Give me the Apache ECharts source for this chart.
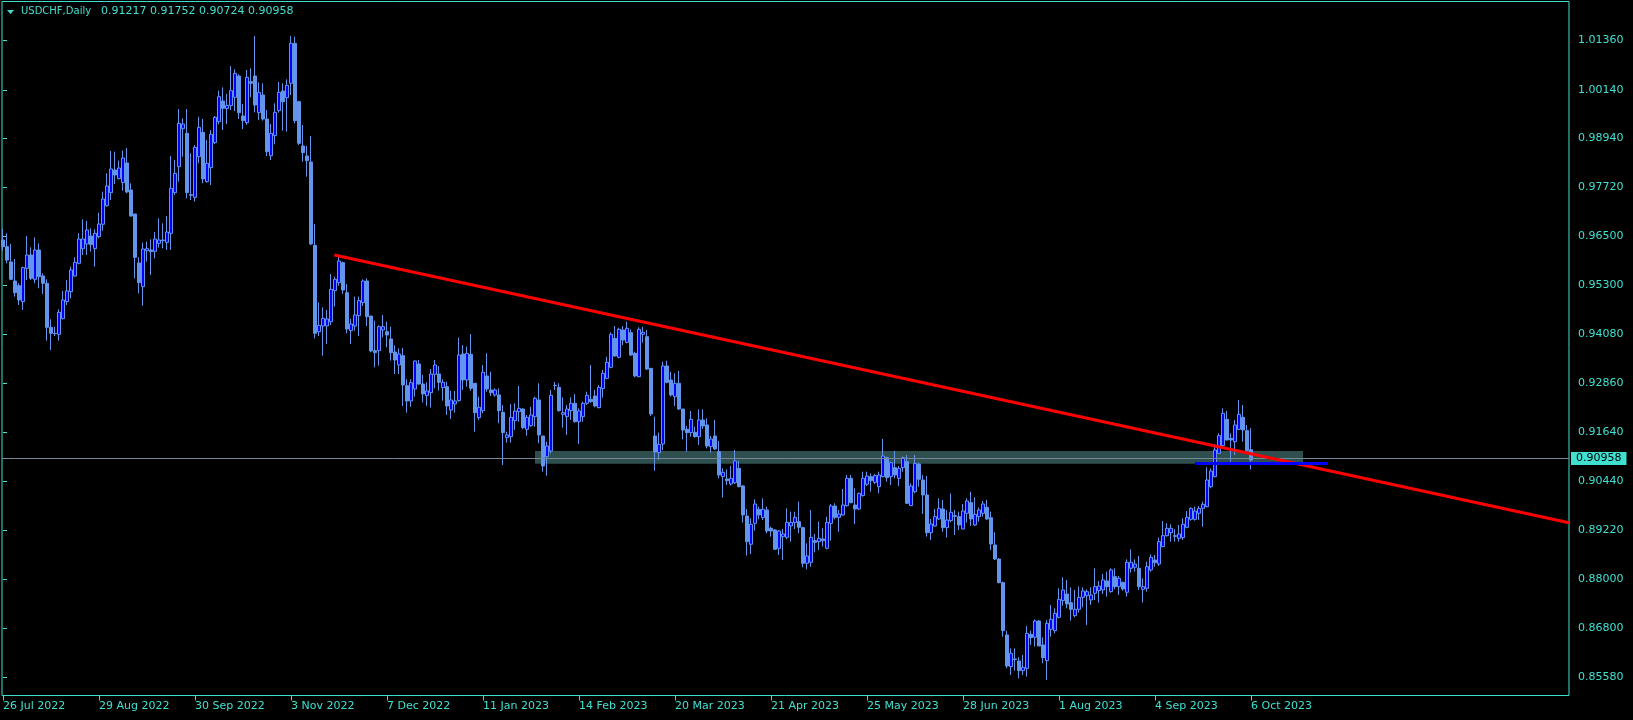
<!DOCTYPE html>
<html><head><meta charset="utf-8">
<script src="https://cdn.jsdelivr.net/npm/echarts@6/dist/echarts.min.js"></script>
<style>html,body{margin:0;padding:0;background:#000}#c{width:1633px;height:720px}</style>
</head><body><div id="c"></div><script>
const symbolName = 'USDCHF,Daily';
const tickLabels = ['26 Jul 2022','29 Aug 2022','30 Sep 2022','3 Nov 2022','7 Dec 2022','11 Jan 2023','14 Feb 2023','20 Mar 2023','21 Apr 2023','25 May 2023','28 Jun 2023','1 Aug 2023','4 Sep 2023','6 Oct 2023'];
const barsPerLabel = 24;
const yTicks = [1.0136,1.0014,0.9894,0.9772,0.965,0.953,0.9408,0.9286,0.9164,0.9044,0.8922,0.88,0.868,0.8558];

const opens = [
0.96416,0.96251,0.95871,0.95400,0.95284,0.94887,0.95714,0.96044,0.95441,0.96168,
0.95524,0.95342,0.94251,0.94102,0.94077,0.94465,0.94887,0.95135,0.95524,0.95838,
0.96201,0.96317,0.96515,0.96201,0.96499,0.96805,0.97267,0.97590,0.98152,0.97937,
0.97838,0.98325,0.97656,0.97061,0.95846,0.95259,0.96152,0.96168,0.96135,0.96333,
0.96400,0.96358,0.96581,0.97590,0.98234,0.99177,0.99061,0.97540,0.97474,0.98482,
0.99086,0.97862,0.98210,0.98830,0.99350,0.99863,0.99673,0.99747,0.99954,1.00483,
0.99491,0.99325,1.00342,1.00483,0.99573,1.00011,0.99416,0.98507,0.99003,0.99623,
1.00111,0.99945,1.00301,1.01292,0.99846,0.98747,0.98499,0.98350,0.96284,0.94143,
0.94283,0.94283,0.94391,0.95160,0.95358,0.95854,0.95110,0.94168,0.94283,0.94540,
0.94862,0.95399,0.94531,0.93672,0.93672,0.94184,0.94143,0.93961,0.93639,0.93317,
0.93548,0.92804,0.92424,0.92721,0.93341,0.92845,0.92556,0.92630,0.93085,0.93093,
0.92754,0.92779,0.92201,0.92350,0.92432,0.93589,0.92945,0.93581,0.92862,0.92011,
0.92184,0.93044,0.92697,0.92573,0.92573,0.92143,0.91515,0.91539,0.91936,0.92159,
0.92225,0.91721,0.91812,0.92035,0.92449,0.91556,0.91044,0.91184,0.92812,0.92763,
0.92093,0.92035,0.92184,0.92366,0.91911,0.92035,0.92366,0.92465,0.92548,0.92258,
0.92730,0.92986,0.93259,0.93978,0.93507,0.94184,0.93878,0.94118,0.93606,0.93027,
0.94077,0.94019,0.93234,0.91556,0.91143,0.91358,0.93292,0.92944,0.92531,0.92862,
0.92225,0.91721,0.91639,0.91647,0.91539,0.91953,0.91829,0.91292,0.91556,0.91167,
0.90548,0.90490,0.90366,0.90399,0.90754,0.90316,0.89572,0.88870,0.89390,0.89738,
0.89531,0.89721,0.89267,0.89225,0.88771,0.89060,0.89043,0.89325,0.89407,0.89432,
0.89283,0.88399,0.88424,0.88961,0.88936,0.89002,0.88771,0.89390,0.89820,0.89539,
0.89597,0.89828,0.90506,0.89845,0.89746,0.90077,0.90358,0.90548,0.90407,0.90300,
0.90548,0.91019,0.90548,0.90771,0.90506,0.90771,0.90920,0.89829,0.90176,0.90862,
0.90465,0.90093,0.89159,0.89324,0.89498,0.89746,0.89283,0.89457,0.89581,0.89556,
0.89250,0.89638,0.89903,0.89349,0.89556,0.89638,0.89787,0.89531,0.88853,0.88506,
0.87919,0.86622,0.85836,0.86027,0.85977,0.85737,0.85795,0.86638,0.86564,0.86969,
0.86374,0.85985,0.86762,0.86729,0.87060,0.87473,0.87638,0.87423,0.87101,0.87258,
0.87556,0.87597,0.87490,0.87655,0.87721,0.87738,0.87961,0.87696,0.88068,0.87820,
0.87928,0.87680,0.88275,0.88300,0.88275,0.87754,0.87779,0.88234,0.88481,0.88382,
0.88812,0.89085,0.89159,0.89085,0.89019,0.89035,0.89291,0.89490,0.89490,0.89638,
0.89762,0.89804,0.90300,0.90548,0.91126,0.91316,0.91969,0.91498,0.91415,0.91721,
0.92019,0.91688,0.91217];

const highs = [
0.96689,0.96581,0.96317,0.95945,0.95342,0.95755,0.96515,0.96234,0.96482,0.96333,
0.95590,0.95441,0.94449,0.94267,0.94697,0.95152,0.95424,0.95755,0.95986,0.96581,
0.96929,0.96887,0.96705,0.96680,0.97094,0.97615,0.98069,0.98623,0.98606,0.98383,
0.98631,0.98697,0.97821,0.97061,0.95986,0.96350,0.96375,0.96433,0.96614,0.96953,
0.96829,0.97011,0.98499,0.98400,0.99664,0.99433,0.99664,0.98565,0.98772,0.99474,
0.99416,0.98896,0.99144,0.99491,1.00119,1.00201,1.00036,1.00730,1.00648,1.00524,
0.99788,1.00631,1.00673,1.01474,1.00325,1.00301,0.99640,0.99292,0.99805,1.00334,
1.00301,1.00400,1.01474,1.01458,0.99871,0.99268,0.98747,0.98995,0.96813,0.94870,
0.94746,0.94680,0.95573,0.95507,0.96003,0.95879,0.95325,0.94457,0.95011,0.95011,
0.95441,0.95465,0.94531,0.94416,0.94300,0.94556,0.94391,0.94267,0.93804,0.93730,
0.93738,0.92961,0.92961,0.93424,0.93441,0.93069,0.92887,0.93217,0.93441,0.93292,
0.92961,0.92903,0.92680,0.92672,0.93994,0.93812,0.93771,0.94085,0.92862,0.92531,
0.93317,0.93606,0.93151,0.92738,0.92738,0.92325,0.91663,0.92349,0.92366,0.92796,
0.92242,0.92077,0.92283,0.92531,0.92862,0.91556,0.91416,0.92697,0.92895,0.92862,
0.92515,0.92325,0.92515,0.92597,0.92242,0.92407,0.92655,0.93316,0.92697,0.92820,
0.93192,0.93523,0.94126,0.94283,0.94242,0.94283,0.94391,0.94201,0.93647,0.94250,
0.94267,0.94184,0.93234,0.92035,0.91639,0.93399,0.93424,0.93151,0.93110,0.93168,
0.92225,0.91804,0.92176,0.91787,0.92217,0.92217,0.91994,0.91556,0.91953,0.91432,
0.90754,0.90730,0.90812,0.91209,0.90944,0.90341,0.89746,0.89515,0.89986,0.89804,
0.90010,0.89804,0.89308,0.89250,0.89225,0.89250,0.89763,0.89680,0.89680,0.89928,
0.89308,0.88895,0.89721,0.89126,0.89432,0.89267,0.89556,0.89870,0.89886,0.89721,
0.90242,0.90589,0.90589,0.90258,0.90151,0.90672,0.90672,0.90630,0.90614,0.90672,
0.91482,0.91044,0.90920,0.91184,0.90812,0.91044,0.91085,0.90382,0.91085,0.90895,
0.90589,0.90564,0.89498,0.89746,0.90010,0.89969,0.89721,0.90134,0.89721,0.89680,
0.89870,0.90010,0.90176,0.90035,0.89787,0.89944,0.89969,0.89680,0.89167,0.88523,
0.87944,0.86729,0.86291,0.86291,0.86068,0.86126,0.86845,0.86729,0.87010,0.86994,
0.86564,0.86994,0.87366,0.87283,0.87779,0.88051,0.87985,0.87804,0.87738,0.87820,
0.87804,0.87754,0.87804,0.88275,0.87961,0.88134,0.88192,0.88275,0.88275,0.88085,
0.87944,0.88498,0.88746,0.88498,0.88581,0.88024,0.88440,0.88622,0.88606,0.89035,
0.89448,0.89391,0.89366,0.89242,0.89349,0.89515,0.89696,0.89787,0.89804,0.89820,
0.89928,0.90779,0.90754,0.91358,0.91622,0.92242,0.92176,0.91622,0.91953,0.92449,
0.92325,0.91829,0.91752];

const lows = [
0.96152,0.95838,0.95424,0.95011,0.94804,0.94680,0.95424,0.95424,0.95342,0.95218,
0.95077,0.93920,0.93689,0.94036,0.93920,0.94449,0.94804,0.94970,0.95507,0.95813,
0.96044,0.96044,0.96127,0.95755,0.96458,0.96647,0.97243,0.97408,0.97805,0.97920,
0.97639,0.97573,0.96995,0.95466,0.95094,0.94788,0.95879,0.95548,0.95962,0.96226,
0.96209,0.96168,0.96168,0.97532,0.97862,0.98482,0.97449,0.97408,0.97367,0.98317,
0.97821,0.97838,0.97780,0.98796,0.99284,0.99144,0.99292,0.99640,0.99615,0.99416,
0.99168,0.99268,0.99954,0.99582,0.99392,0.99375,0.98499,0.98400,0.98788,0.99573,
0.99127,0.99102,1.00011,0.99309,0.98772,0.98358,0.97986,0.96292,0.93978,0.94035,
0.93548,0.93837,0.94308,0.94763,0.95284,0.95077,0.94102,0.93837,0.94168,0.94035,
0.94779,0.94283,0.93631,0.93259,0.93300,0.94002,0.93754,0.93424,0.93093,0.93093,
0.92300,0.92135,0.92283,0.92531,0.92821,0.92391,0.92300,0.92259,0.92738,0.92680,
0.92432,0.92077,0.91978,0.92135,0.92408,0.92697,0.92779,0.92680,0.91663,0.91953,
0.92118,0.92655,0.92548,0.92531,0.91870,0.90837,0.91391,0.91391,0.91705,0.91911,
0.91721,0.91564,0.91787,0.91787,0.91374,0.90672,0.90572,0.91126,0.92697,0.92159,
0.91763,0.91581,0.91953,0.91887,0.91358,0.91911,0.92325,0.92382,0.92267,0.92242,
0.92506,0.92961,0.93234,0.93523,0.93482,0.93812,0.93854,0.93540,0.93011,0.93011,
0.93870,0.93192,0.92052,0.90696,0.90961,0.91209,0.92862,0.92531,0.92300,0.92201,
0.91473,0.91168,0.91539,0.91515,0.91333,0.91730,0.91250,0.91143,0.91209,0.90506,
0.90027,0.90341,0.90325,0.90366,0.90283,0.89407,0.88589,0.88630,0.89209,0.89490,
0.89473,0.89143,0.89060,0.88730,0.88605,0.88481,0.88994,0.88936,0.89250,0.89143,
0.88300,0.88250,0.88316,0.88672,0.88729,0.88812,0.88746,0.88961,0.89490,0.89184,
0.89581,0.89804,0.89886,0.89374,0.89721,0.90052,0.90316,0.90176,0.90366,0.90134,
0.90531,0.90424,0.90341,0.90506,0.90316,0.90672,0.89870,0.89820,0.90134,0.90300,
0.89622,0.89060,0.88977,0.89308,0.89473,0.89184,0.89035,0.89415,0.89101,0.89225,
0.89242,0.89407,0.89324,0.89324,0.89432,0.89556,0.89473,0.88729,0.88481,0.87903,
0.86580,0.85795,0.85630,0.85737,0.85547,0.85630,0.85589,0.86374,0.86333,0.86349,
0.85919,0.85506,0.86580,0.86663,0.87035,0.87349,0.87283,0.86977,0.87060,0.87176,
0.87308,0.86870,0.87366,0.87490,0.87423,0.87638,0.87572,0.87671,0.87754,0.87614,
0.87721,0.87572,0.88167,0.88192,0.87738,0.87423,0.87696,0.88192,0.88316,0.88333,
0.88795,0.89060,0.88936,0.88936,0.88936,0.88977,0.89267,0.89457,0.89457,0.89473,
0.89308,0.89787,0.90258,0.90531,0.91110,0.91308,0.91440,0.90920,0.91085,0.91705,
0.91415,0.91167,0.90724];

const closes = [
0.96251,0.95920,0.95441,0.95110,0.94928,0.95730,0.96044,0.95466,0.96168,0.95507,
0.95342,0.94251,0.94102,0.94094,0.94623,0.94928,0.95152,0.95672,0.95862,0.96441,
0.96441,0.96664,0.96300,0.96581,0.96813,0.97433,0.97755,0.98177,0.98028,0.98201,
0.98449,0.97606,0.97011,0.95986,0.95358,0.96193,0.96201,0.96127,0.96441,0.96416,
0.96416,0.96614,0.97697,0.98069,0.99309,0.99292,0.97590,0.97524,0.98714,0.99210,
0.97929,0.98317,0.99036,0.99458,0.99970,0.99681,0.99755,1.00119,1.00549,0.99573,
0.99375,1.00449,1.00301,0.99763,1.00078,0.99416,0.98606,0.99061,0.99582,1.00078,
0.99846,1.00251,1.01292,0.99375,0.98813,0.98582,0.98383,0.96317,0.94102,0.94300,
0.94474,0.94457,0.95193,0.95441,0.95895,0.95176,0.94209,0.94333,0.94556,0.94912,
0.95399,0.94515,0.93664,0.93622,0.94267,0.94267,0.94060,0.93622,0.93441,0.93589,
0.92821,0.92424,0.92878,0.93416,0.92845,0.92598,0.92672,0.93093,0.93317,0.92887,
0.92887,0.92300,0.92449,0.92424,0.93564,0.92945,0.93606,0.92738,0.92135,0.92267,
0.93135,0.92721,0.92630,0.92697,0.92184,0.91639,0.91581,0.92019,0.92176,0.92242,
0.91763,0.92019,0.92077,0.92490,0.91581,0.90812,0.91308,0.92564,0.92804,0.92184,
0.92135,0.92225,0.92366,0.91911,0.92176,0.92366,0.92564,0.92407,0.92300,0.92763,
0.93110,0.93383,0.94077,0.93540,0.94201,0.93936,0.94226,0.93564,0.93044,0.94201,
0.94126,0.93217,0.92101,0.91159,0.91349,0.93292,0.92887,0.92572,0.92862,0.92225,
0.91705,0.91639,0.91969,0.91539,0.91953,0.91804,0.91308,0.91482,0.91234,0.90589,
0.90655,0.90448,0.90506,0.90936,0.90300,0.89597,0.88936,0.89366,0.89870,0.89597,
0.89738,0.89201,0.89201,0.88746,0.89201,0.89126,0.89415,0.89415,0.89539,0.89292,
0.88399,0.88581,0.89043,0.88919,0.89019,0.88961,0.89415,0.89820,0.89539,0.89622,
0.89845,0.90506,0.89903,0.89746,0.90134,0.90506,0.90564,0.90448,0.90572,0.90589,
0.91060,0.90523,0.90895,0.90589,0.90754,0.91019,0.89886,0.90316,0.90878,0.90482,
0.90093,0.89159,0.89374,0.89556,0.89762,0.89283,0.89473,0.89663,0.89564,0.89349,
0.89696,0.89944,0.89498,0.89614,0.89721,0.89870,0.89498,0.88878,0.88506,0.87919,
0.86729,0.85853,0.86167,0.86010,0.85737,0.85820,0.86663,0.86556,0.86969,0.86349,
0.86060,0.86911,0.87010,0.87159,0.87506,0.87738,0.87390,0.87258,0.87258,0.87556,
0.87713,0.87696,0.87614,0.87820,0.87837,0.87986,0.87820,0.88234,0.87820,0.88027,
0.87762,0.88424,0.88424,0.88382,0.87820,0.87820,0.88316,0.88548,0.88415,0.88936,
0.89085,0.89267,0.89267,0.89068,0.89126,0.89366,0.89539,0.89762,0.89696,0.89762,
0.89862,0.90465,0.90688,0.91209,0.91564,0.92118,0.91457,0.91457,0.91829,0.92093,
0.91705,0.91192,0.90958];

// drawn objects (bar index, price)
const redTrend = [[82.83, 0.96044], [391.5, 0.89406]];
const blueLevel = [[298, 0.90872], [331.25, 0.90872]];
const zoneBox = [[133, 0.91184], [325, 0.90869]];

const FG = '#40E0D0';
const FONT = 'DejaVu Sans';
const last = closes.length - 1;
const bid = closes[last];
const candles = opens.map((o, i) => [i, o, closes[i], lows[i], highs[i]]);
const labelIdx = tickLabels.map((_, k) => k * barsPerLabel);
const headerValues = [opens[last], highs[last], lows[last], closes[last]].map(v => v.toFixed(5)).join(' ');

const chart = echarts.init(document.getElementById('c'), null, {renderer: 'canvas'});
chart.setOption({
  backgroundColor: '#000000',
  animation: false,
  grid: {left: 2, right: 64, top: 1.5, bottom: 24.5, show: true, borderColor: FG, borderWidth: 1, backgroundColor: '#000000'},
  xAxis: {
    type: 'value', min: -0.25, max: 391.5,
    axisLine: {show: false},
    splitLine: {show: false},
    axisTick: {show: true, customValues: labelIdx, length: 5, lineStyle: {color: FG}},
    axisLabel: {customValues: labelIdx, color: FG, fontFamily: FONT, fontSize: 11, align: 'left', margin: 5,
      formatter: v => tickLabels[Math.round(v / barsPerLabel)]}
  },
  yAxis: {
    type: 'value', position: 'right', min: 0.85121, max: 1.0233, scale: true,
    axisLine: {show: false},
    splitLine: {show: false},
    axisTick: {show: true, customValues: yTicks, length: 4, lineStyle: {color: FG}},
    axisLabel: {customValues: yTicks, color: FG, fontFamily: FONT, fontSize: 11, margin: 9,
      formatter: v => v.toFixed(5)}
  },
  graphic: [
    {type: 'polygon', shape: {points: [[7, 10], [14, 10], [10.5, 14]]}, style: {fill: FG}, z: 100},
    {type: 'text', left: 21, top: 6, z: 100, style: {
      text: '{n|' + symbolName + '}{v|' + headerValues + '}',
      rich: {
        n: {fill: FG, fontFamily: FONT, fontSize: 10},
        v: {fill: FG, fontFamily: FONT, fontSize: 11, padding: [0, 0, 0, 10]}
      },
      fill: FG, fontFamily: FONT, fontSize: 11}}
  ],
  series: [
    {type: 'line', data: zoneBox, showSymbol: false, lineStyle: {width: 0, opacity: 0}, z: 1, silent: true,
      markArea: {silent: true, itemStyle: {color: '#2F4F4F'},
        data: [[{coord: zoneBox[0]}, {coord: zoneBox[1]}]]}},
    {type: 'candlestick', data: candles, encode: {x: 0, y: [1, 2, 3, 4]}, barWidth: 3, z: 3,
      itemStyle: {color: '#0000FF', color0: '#6495ED', borderColor: '#6495ED', borderColor0: '#6495ED', borderWidth: 1},
      markLine: {silent: true, symbol: ['none', 'none'], animation: false,
        lineStyle: {color: '#778899', width: 1, type: 'solid'},
        label: {show: true, position: 'end', distance: 2, formatter: () => bid.toFixed(5),
          backgroundColor: FG, color: '#000', fontFamily: FONT, fontSize: 11, padding: [1, 5, 1, 5]},
        data: [{yAxis: bid}]}},
    {type: 'line', data: redTrend, showSymbol: false, z: 5, silent: true,
      lineStyle: {color: '#FF0000', width: 3}},
    {type: 'line', data: blueLevel, showSymbol: false, z: 5, silent: true,
      lineStyle: {color: '#0000FF', width: 3}}
  ]
});
</script></body></html>
